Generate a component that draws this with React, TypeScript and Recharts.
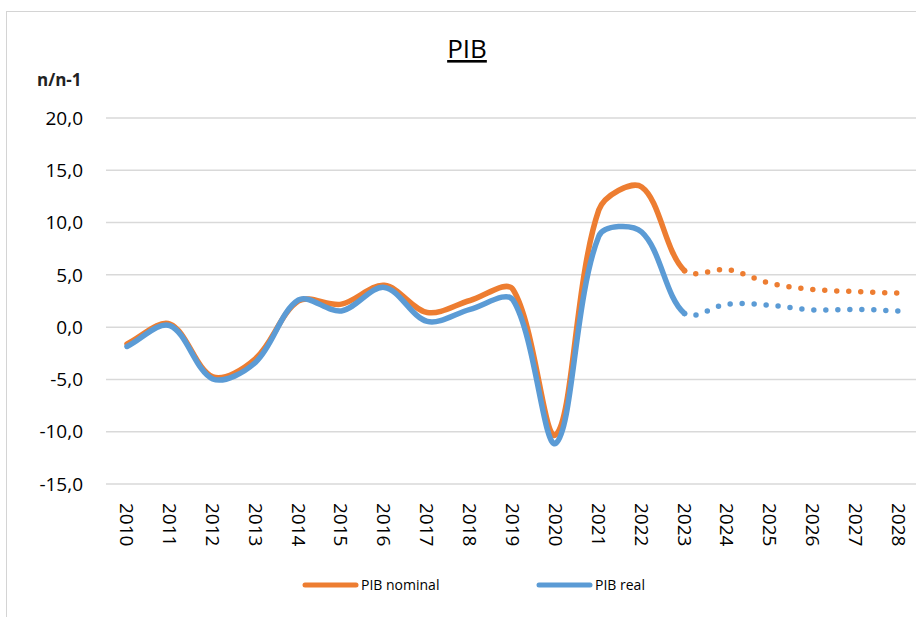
import React from 'react'
import { LineChart, Line, XAxis, YAxis, CartesianGrid } from 'recharts'

// PIB n/n-1 (%), actual up to 2023, forecast afterwards
const years = ['2010', '2011', '2012', '2013', '2014', '2015', '2016', '2017', '2018', '2019',
    '2020', '2021', '2022', '2023', '2024', '2025', '2026', '2027', '2028']
const pibNominal = [-1.6, 0.3, -4.75, -3.0, 2.5, 2.2, 4.0, 1.4, 2.55, 3.6,
    -10.3, 11.2, 13.4, 5.4, 5.5, 4.2, 3.6, 3.4, 3.25]
const pibReal = [-1.85, 0.15, -4.95, -3.35, 2.6, 1.55, 3.8, 0.55, 1.7, 2.6,
    -11.1, 8.7, 9.1, 1.3, 2.2, 2.1, 1.65, 1.7, 1.55]
const yTicks = [-15, -10, -5, 0, 5, 10, 15, 20]
const lastActual = years.indexOf('2023')

const ORANGE = '#ED7D31'
const BLUE = '#5B9BD5'
const FONT = '"Open Sans", "Liberation Sans", sans-serif'

const data = years.map((year, i) => ({ year, nominal: pibNominal[i], real: pibReal[i] }))

// Excel-like smoothing (bezier handles scaled by neighbouring chord lengths),
// only drawing the segments between point indices `from` and `to`
function handles(pts: number[][], i: number) {
    const p = pts[i]
    const prev = pts[i - 1] || p
    const next = pts[i + 1] || p
    const dx = next[0] - prev[0]
    const dy = next[1] - prev[1]
    const lin = Math.hypot(p[0] - prev[0], p[1] - prev[1])
    const lout = Math.hypot(next[0] - p[0], next[1] - p[1])
    const s = (lin + lout) || 1
    const k = 1 / 3
    return [
        [p[0] - dx * k * lin / s, p[1] - dy * k * lin / s],
        [p[0] + dx * k * lout / s, p[1] + dy * k * lout / s],
    ]
}

function smoothPart(from: number, to: number) {
    return (context: any) => {
        let pts: number[][] = []
        return {
            areaStart() {},
            areaEnd() {},
            lineStart() { pts = [] },
            point(x: number, y: number) { pts.push([+x, +y]) },
            lineEnd() {
                const a = Math.max(0, from)
                const b = Math.min(pts.length - 1, to)
                if (b <= a) return
                context.moveTo(pts[a][0], pts[a][1])
                for (let i = a; i < b; i++) {
                    const c1 = handles(pts, i)[1]
                    const c2 = handles(pts, i + 1)[0]
                    context.bezierCurveTo(c1[0], c1[1], c2[0], c2[1], pts[i + 1][0], pts[i + 1][1])
                }
            },
        }
    }
}

const solidCurve = smoothPart(0, lastActual)
const dottedCurve = smoothPart(lastActual, years.length - 1)

const YearTick = (props: any) => {
    const { x, y, payload } = props
    return (
        <text
            transform={`translate(${x},${y + 19}) rotate(90)`}
            textAnchor="start"
            dominantBaseline="central"
            fontSize={19}
            fontFamily={FONT}
            fill="#000"
        >
            {payload.value}
        </text>
    )
}

const legendItems = [
    { name: 'PIB nominal', color: ORANGE, x: 303 },
    { name: 'PIB real', color: BLUE, x: 537 },
]

export default function App() {
    return (
        <div style={{ position: 'fixed', left: 0, top: 0, width: 916, height: 617, overflow: 'hidden', background: '#fff' }}>
            <div style={{ position: 'absolute', left: 6, top: 11, width: 1000, height: 700, border: '1.5px solid #d4d4d4' }} />
            <div style={{ position: 'absolute', left: 0, top: 0 }}>
                <LineChart width={945} height={617} data={data} margin={{ top: 118, right: 25, bottom: 0, left: 0 }}>
                    <CartesianGrid vertical={false} stroke="#d9d9d9" strokeWidth={1.5} />
                    <XAxis
                        dataKey="year"
                        padding={{ left: 21, right: 21 }}
                        axisLine={false}
                        tickLine={false}
                        tickSize={0}
                        tickMargin={0}
                        height={133}
                        interval={0}
                        tick={<YearTick />}
                    />
                    <YAxis
                        domain={[-15, 20]}
                        ticks={yTicks}
                        width={106}
                        axisLine={false}
                        tickLine={false}
                        tickSize={0}
                        tickMargin={23}
                        tickFormatter={(v: number) => v.toFixed(1).replace('.', ',')}
                        tick={{ fill: '#000', fontSize: 19, fontFamily: FONT }}
                    />
                    <Line dataKey="nominal" type={solidCurve as any} stroke={ORANGE} strokeWidth={5.5}
                        strokeLinecap="round" strokeLinejoin="round" dot={false} activeDot={false} isAnimationActive={false} />
                    <Line dataKey="nominal" type={dottedCurve as any} stroke={ORANGE} strokeWidth={5.5}
                        strokeLinecap="round" strokeDasharray="0 12" dot={false} activeDot={false} isAnimationActive={false} />
                    <Line dataKey="real" type={solidCurve as any} stroke={BLUE} strokeWidth={5.5}
                        strokeLinecap="round" strokeLinejoin="round" dot={false} activeDot={false} isAnimationActive={false} />
                    <Line dataKey="real" type={dottedCurve as any} stroke={BLUE} strokeWidth={5.5}
                        strokeLinecap="round" strokeDasharray="0 12" dot={false} activeDot={false} isAnimationActive={false} />
                </LineChart>
            </div>
            <svg width={916} height={617} style={{ position: 'absolute', left: 0, top: 0, pointerEvents: 'none' }}>
                <text x={467} y={58} textAnchor="middle" fontSize={26} fontFamily={FONT} textDecoration="underline" fill="#000">PIB</text>
                <text x={37} y={86} fontSize={17} fontWeight="bold" fontFamily={FONT} fill="#222">n/n-1</text>
                {legendItems.map(item => (
                    <g key={item.name}>
                        <line x1={item.x + 2} x2={item.x + 53} y1={585} y2={585} stroke={item.color} strokeWidth={5} strokeLinecap="round" />
                        <text x={item.x + 58} y={590} fontSize={14} fontFamily={FONT} fill="#000">{item.name}</text>
                    </g>
                ))}
            </svg>
        </div>
    )
}
